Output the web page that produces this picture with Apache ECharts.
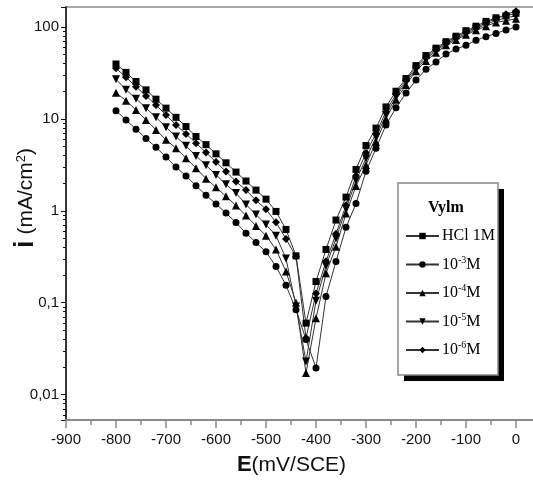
<!DOCTYPE html>
<html>
<head>
<meta charset="utf-8">
<script src="https://cdn.jsdelivr.net/npm/echarts@6/dist/echarts.min.js"></script>
<style>
  html, body { margin: 0; padding: 0; background: #fff; }
  #chart { width: 533px; height: 487px; }
</style>
</head>
<body>
<div id="chart"></div>
<script>
// Potential (mV vs SCE) of each measured point
const potentials = [-800, -780, -760, -740, -720, -700, -680, -660, -640, -620,
  -600, -580, -560, -540, -520, -500, -480, -460, -440, -420,
  -400, -380, -360, -340, -320, -300, -280, -260, -240, -220,
  -200, -180, -160, -140, -120, -100, -80, -60, -40, -20, 0];

// Current density (mA/cm2) for each solution
const blankHCl = [39.6, 32.1, 25.5, 20.7, 16.4, 13.1, 10.4, 8.26, 6.43, 5.25,
  4.17, 3.33, 2.64, 2.11, 1.68, 1.34, 0.985, 0.627, 0.324, 0.060,
  0.170, 0.380, 0.794, 1.41, 2.82, 5.13, 7.94, 13.5, 20.0, 27.5,
  38.0, 49.0, 58.9, 69.2, 79.4, 91.2, 102, 115, 126, 132, 141];
const conc1e3 = [12.3, 9.75, 7.73, 6.11, 4.92, 3.84, 2.99, 2.40, 1.87, 1.48,
  1.19, 0.944, 0.746, 0.571, 0.452, 0.358, 0.248, 0.155, 0.0839, 0.0398,
  0.0195, 0.117, 0.281, 0.661, 1.20, 2.69, 4.79, 8.61, 13.2, 19.1,
  26.5, 34.7, 41.7, 50.7, 57.5, 63.1, 71.6, 78.5, 85.1, 92.7, 100];
const conc1e4 = [19.3, 15.8, 12.5, 9.75, 7.59, 5.92, 4.80, 3.74, 2.91, 2.24,
  1.80, 1.44, 1.14, 0.887, 0.684, 0.537, 0.380, 0.219, 0.100, 0.0172,
  0.0676, 0.209, 0.407, 0.933, 1.86, 3.16, 5.62, 10.0, 16.2, 23.4,
  33.1, 42.7, 52.5, 63.1, 72.4, 82.2, 92.3, 102, 112, 117, 123];
const conc1e5 = [27.0, 20.7, 16.6, 13.1, 10.4, 8.13, 6.43, 5.09, 3.96, 3.13,
  2.46, 1.94, 1.56, 1.17, 0.912, 0.708, 0.537, 0.302, 0.0912, 0.0230,
  0.105, 0.251, 0.501, 1.05, 2.14, 3.72, 6.31, 11.0, 17.4, 25.1,
  34.7, 44.7, 55.0, 65.3, 75.0, 85.1, 95.5, 107, 117, 126, 132];
const conc1e6 = [35.6, 28.4, 22.4, 17.8, 14.2, 11.0, 8.61, 6.87, 5.45, 4.31,
  3.39, 2.67, 2.08, 1.68, 1.30, 1.04, 0.75, 0.495, 0.318, 0.0413,
  0.126, 0.282, 0.562, 1.15, 2.40, 4.27, 6.92, 12.0, 18.6, 26.3,
  36.3, 46.8, 56.9, 67.6, 77.6, 88.1, 98.9, 111, 123, 138, 148];

const seriesNames = ['HCl 1M', '10-3M', '10-4M', '10-5M', '10-6M'];
const legendText = ['HCl 1M', '10{s|-3}M', '10{s|-4}M', '10{s|-5}M', '10{s|-6}M'];
const seriesData = [blankHCl, conc1e3, conc1e4, conc1e5, conc1e6];
const symbols = ['rect', 'circle', 'triangle', 'path://M0,0 L10,0 L5,10 Z', 'diamond'];
const symbolSizes = [7, 7, 8, 8, 8];

const tickFont = 'Liberation Sans Narrow, Liberation Sans, sans-serif';

const chart = echarts.init(document.getElementById('chart'), null, { renderer: 'canvas' });

const isDecade = v => Math.abs(Math.log10(v) - Math.round(Math.log10(v))) < 1e-6;

const series = seriesData.map((vals, i) => ({
  name: seriesNames[i],
  type: 'line',
  data: potentials.map((e, k) => [e, vals[k]]),
  symbol: symbols[i],
  symbolSize: symbolSizes[i],
  showAllSymbol: true,
  itemStyle: { color: '#000' },
  lineStyle: { color: '#333', width: 1 },
  z: 3,
  animation: false
}));

chart.setOption({
  animation: false,
  backgroundColor: '#fff',
  grid: {
    left: 66, top: 7, right: -8, bottom: 67,
    containLabel: false, outerBoundsMode: 'none',
    show: true, borderColor: '#8a8a8a', borderWidth: 1.5, backgroundColor: 'transparent'
  },
  xAxis: [{
    type: 'value', min: -900, max: 50, interval: 100,
    name: '{b|E}(mV/SCE)', nameLocation: 'middle', nameGap: 34,
    nameTextStyle: {
      fontFamily: tickFont, fontSize: 21, color: '#111',
      padding: [0, 24, 0, 0],
      rich: { b: { fontFamily: tickFont, fontSize: 22, fontWeight: 'bold', color: '#111' } }
    },
    axisLine: { onZero: false, lineStyle: { color: '#8a8a8a', width: 2 } },
    axisTick: { inside: false, length: 8, lineStyle: { color: '#8a8a8a', width: 1.5 } },
    axisLabel: {
      margin: 12, fontFamily: tickFont, fontSize: 15, color: '#111',
      formatter: v => (v % 100 === 0 ? String(v) : '')
    },
    splitLine: { show: false }
  }, {
    // minor ticks every 50 mV
    type: 'value', min: -900, max: 50, interval: 50, position: 'bottom',
    axisLine: { show: false, onZero: false },
    axisTick: { inside: false, length: 5, lineStyle: { color: '#8a8a8a', width: 1.5 } },
    axisLabel: { show: false },
    splitLine: { show: false }
  }],
  yAxis: {
    type: 'log', logBase: 10, min: 0.0053, max: 165,
    position: 'left',
    axisLine: { onZero: false, lineStyle: { color: '#111', width: 1.5 } },
    axisTick: { inside: false, length: 5, lineStyle: { color: '#111' } },
    minorTick: { show: true, splitNumber: 9, length: 3, lineStyle: { color: '#111' } },
    axisLabel: {
      margin: 7, fontFamily: tickFont, fontSize: 15, color: '#111',
      formatter: v => (isDecade(v) ? String(+v.toPrecision(3)).replace('.', ',') : '')
    },
    splitLine: { show: false }
  },
  legend: {
    orient: 'vertical',
    left: 398, top: 183,
    padding: [45, 8, 16, 7],
    itemGap: 11,
    itemWidth: 33, itemHeight: 8,
    z: 10,
    data: seriesNames,
    formatter: name => legendText[seriesNames.indexOf(name)],
    textStyle: {
      fontFamily: 'Liberation Serif', fontSize: 16, color: '#000', padding: [0, 0, 0, -2],
      rich: { s: { fontFamily: 'Liberation Serif', fontSize: 10, color: '#000', padding: [0, 0, 9, 0] } }
    }
  },
  graphic: [{
    // drop shadow of the legend frame
    type: 'rect', z: 8, shape: { x: 404, y: 189, width: 100, height: 192 },
    style: { fill: '#000' }
  }, {
    type: 'rect', z: 9, shape: { x: 398, y: 183, width: 100, height: 192 },
    style: { fill: '#fff', stroke: '#888', lineWidth: 1.5 }
  }, {
    type: 'text', left: 428, top: 200, z: 11,
    style: { text: 'Vylm', font: 'bold 16px "Liberation Serif"', fill: '#000' }
  }, {
    // vertical title of the current axis
    type: 'text', x: 26, y: 198, rotation: Math.PI / 2, z: 11,
    style: {
      text: '{b|i} (mA/cm{s|2})',
      align: 'center', verticalAlign: 'middle',
      font: '21px "Liberation Sans"', fill: '#111',
      rich: {
        b: { font: 'bold 27px "Liberation Sans"', fill: '#111' },
        s: { font: '13px "Liberation Sans"', fill: '#111', padding: [0, 0, 10, 0] }
      }
    }
  }],
  series: series
});
</script>
</body>
</html>
